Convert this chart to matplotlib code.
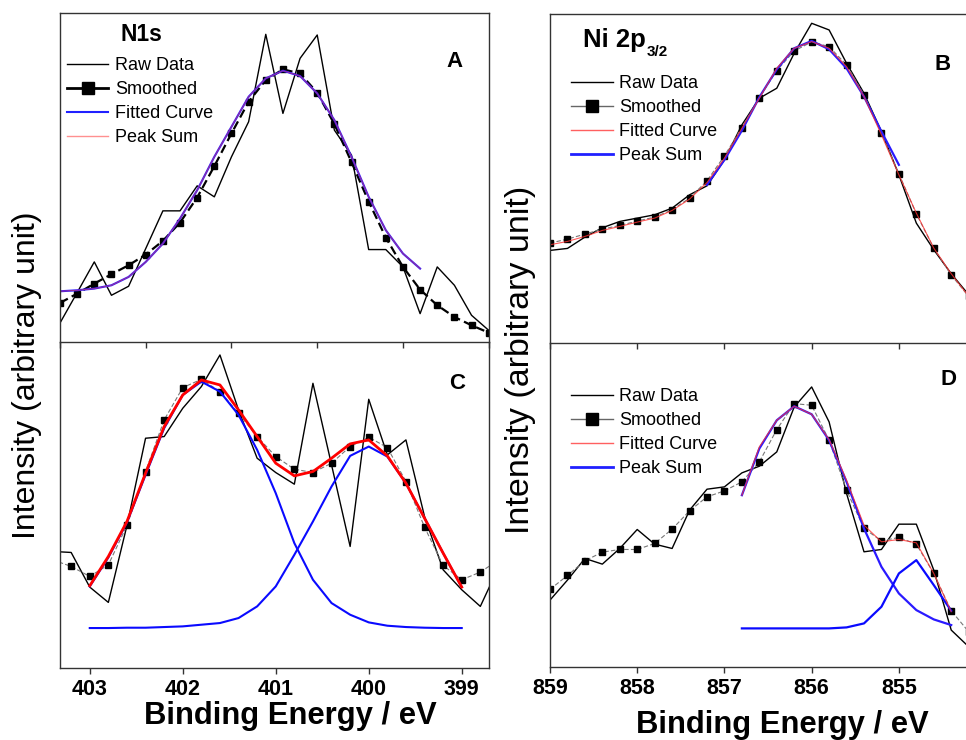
import numpy as np
import matplotlib
matplotlib.use("Agg")
import matplotlib.pyplot as plt
from matplotlib.lines import Line2D

plt.rcParams['font.family'] = ['Liberation Sans', 'DejaVu Sans']

# ---- N1s, sample 1 (panel A) ----
eA = np.round(np.arange(404.0, 398.9, -0.2), 1)
rawA = [57, 148, 240, 140, 167, 280, 393, 393, 468, 435, 555, 660, 922,
        685, 850, 920, 635, 560, 277, 277, 225, 85, 225, 170, 80, 35]
smoothA = [117, 145, 175, 203, 230, 262, 303, 358, 433, 527, 625, 720, 785,
           817, 805, 747, 653, 539, 421, 313, 225, 157, 110, 75, 50, 28]
eA_fit = np.round(np.arange(404.0, 399.7, -0.2), 1)
fitA = [152, 155, 160, 170, 195, 240, 295, 370, 455, 555, 645, 735, 790,
        813, 797, 745, 665, 555, 435, 335, 265, 220]

# ---- N1s, sample 2 (panel C) ----
eC = np.round(np.arange(403.4, 398.5, -0.2), 1)
rawC = [350, 347, 243, 197, 428, 690, 695, 780, 845, 940, 775, 630, 587,
        552, 855, 610, 365, 807, 640, 685, 455, 295, 235, 185, 305]
smoothC = [325, 305, 275, 310, 428, 590, 745, 842, 867, 830, 765, 695, 635,
           597, 587, 615, 665, 693, 662, 560, 423, 308, 265, 288, 325]
eC_fit = np.round(np.arange(403.0, 398.9, -0.2), 1)
sumC = [247, 335, 440, 585, 725, 820, 865, 850, 775, 695, 615, 577, 590,
        630, 673, 685, 637, 555, 450, 345, 243]
peak1C = [245, 332, 437, 580, 720, 820, 860, 830, 760, 655, 525, 375, 265,
          195, 160, 137, 127, 123, 121, 120, 120]
peak2C = [120, 120, 121, 121, 123, 125, 130, 135, 150, 185, 245, 340, 440,
          545, 637, 665, 635, 555, 450, 345, 243]

# ---- Ni 2p3/2, sample 1 (panel B) ----
eNi = np.round(np.arange(859.0, 854.1, -0.2), 1)
rawB = [278, 284, 318, 346, 365, 375, 385, 405, 445, 472, 550, 655, 735,
        765, 870, 960, 940, 840, 750, 635, 505, 360, 280, 208, 145]
smoothB = [300, 312, 327, 342, 353, 366, 378, 400, 435, 487, 562, 647, 737,
           818, 877, 904, 890, 835, 745, 630, 508, 388, 285, 204, 140]
fitB = [295, 305, 320, 338, 350, 363, 375, 398, 432, 482, 555, 645, 735,
        825, 885, 905, 885, 830, 740, 625, 505, 390, 285, 208, 140]
eB_peak = np.round(np.arange(857.2, 854.9, -0.2), 1)
peakB = [475, 550, 638, 738, 822, 885, 907, 882, 825, 740, 635, 535]

# ---- Ni 2p3/2, sample 2 (panel D) ----
rawD = [200, 260, 325, 308, 355, 412, 368, 355, 470, 533, 540, 582, 602,
        645, 780, 840, 735, 520, 345, 352, 428, 428, 290, 110, 60]
smoothD = [232, 274, 318, 344, 352, 352, 370, 413, 468, 510, 528, 555, 615,
           712, 790, 785, 680, 530, 415, 378, 388, 368, 280, 168, 105]
eD_fit = np.round(np.arange(856.8, 854.3, -0.2), 1)
fitD = [515, 660, 740, 782, 758, 682, 560, 425, 375, 382, 372, 280, 165]
peak1D = [515, 655, 740, 782, 758, 680, 555, 415, 300, 220, 170, 142, 125]
peak2D = [115, 115, 115, 115, 115, 115, 118, 130, 180, 280, 320, 245, 168]

W, H = 966, 740
fig = plt.figure(figsize=(W / 100, H / 100), dpi=100)


def px_axes(x0, y0, x1, y1):
    return fig.add_axes([x0 / W, 1 - y1 / H, (x1 - x0) / W, (y1 - y0) / H])


axA = px_axes(60, 13.3, 488.7, 342)
axC = px_axes(60, 342, 488.7, 668)
axB = px_axes(550, 14.3, 980, 343)
axD = px_axes(550, 343, 980, 666.7)

spine_col = '#333333'
for ax in (axA, axC, axB, axD):
    ax.patch.set_visible(False)
    for s in ax.spines.values():
        s.set_linewidth(1.0)
        s.set_color(spine_col)
    ax.set_yticks([])
    ax.tick_params(axis='x', direction='out', length=4, width=1,
                   color=spine_col, labelsize=15.5, pad=4)

leg_kw = dict(loc='upper left', frameon=False, fontsize=13, borderpad=0,
              borderaxespad=0, handlelength=2.3, handletextpad=0.35,
              labelspacing=0.39)

# panel A
axA.plot(eA, rawA, color='black', lw=1.0)
axA.plot(eA, smoothA, color='black', lw=1.6, ls=(0, (4, 2)),
         marker='s', ms=4.5, mfc='black', mec='black')
axA.plot(eA_fit, fitA, color='#2a1aff', lw=1.5)
axA.plot(eA_fit, fitA, color='#ff4040', lw=0.7, alpha=0.55)
axA.set_xlim(404.0, 399.0)
axA.set_ylim(0, 985)
axA.set_xticks([404, 403, 402, 401, 400, 399])
axA.tick_params(axis='x', labelbottom=False)
axA.text(0.14, 0.934, 'N1s', transform=axA.transAxes, fontsize=16.5,
         fontweight='bold', ha='left', va='center')
axA.text(0.921, 0.852, 'A', transform=axA.transAxes, fontsize=16,
         fontweight='bold', ha='center', va='center')
handlesA = [
    Line2D([], [], color='black', lw=1.0),
    Line2D([], [], color='black', lw=2.0, marker='s', ms=8),
    Line2D([], [], color='#2020ff', lw=1.5),
    Line2D([], [], color='#ff9090', lw=1.0),
]
axA.legend(handlesA, ['Raw Data', 'Smoothed', 'Fitted Curve', 'Peak Sum'],
           bbox_to_anchor=(0.016, 0.866), **leg_kw)

# panel C
axC.plot(eC, rawC, color='black', lw=1.0)
axC.plot(eC, smoothC, color='#777777', lw=0.8, ls=(0, (4, 2)),
         marker='s', ms=4.5, mfc='black', mec='black')
axC.plot(eC_fit, peak1C, color='#0a0aff', lw=1.5)
axC.plot(eC_fit, peak2C, color='#0a0aff', lw=1.5)
axC.plot(eC_fit, sumC, color='#ff0000', lw=2.0)
axC.set_xlim(403.32, 398.71)
axC.set_ylim(0, 979)
axC.set_xticks([403, 402, 401, 400, 399])
axC.set_xticklabels(['403', '402', '401', '400', '399'], fontweight='bold')
axC.spines['top'].set_visible(False)
axC.text(0.926, 0.874, 'C', transform=axC.transAxes, fontsize=16,
         fontweight='bold', ha='center', va='center')

# panel B
axB.plot(eNi, rawB, color='black', lw=1.0)
axB.plot(eNi, smoothB, color='#777777', lw=0.8, ls=(0, (4, 2)),
         marker='s', ms=4.5, mfc='black', mec='black')
axB.plot(eB_peak, peakB, color='#2a1aff', lw=1.6)
axB.plot(eNi, fitB, color='#ff3030', lw=0.8, alpha=0.8)
axB.set_xlim(859.0, 854.07)
axB.set_ylim(0, 987)
axB.set_xticks([859, 858, 857, 856, 855])
axB.tick_params(axis='x', labelbottom=False)
axB.text(0.0767, 0.922, 'Ni 2p', transform=axB.transAxes, fontsize=18.5,
         fontweight='bold', ha='left', va='center')
axB.text(0.226, 0.885, '3/2', transform=axB.transAxes, fontsize=11,
         fontweight='bold', ha='left', va='center')
axB.text(0.914, 0.846, 'B', transform=axB.transAxes, fontsize=16,
         fontweight='bold', ha='center', va='center')
handlesNi = [
    Line2D([], [], color='black', lw=1.0),
    Line2D([], [], color='#666666', lw=1.0, marker='s', ms=8,
           mfc='black', mec='black'),
    Line2D([], [], color='#ff6060', lw=1.0),
    Line2D([], [], color='#2020ff', lw=2.0),
]
labelsNi = ['Raw Data', 'Smoothed', 'Fitted Curve', 'Peak Sum']
axB.legend(handlesNi, labelsNi, bbox_to_anchor=(0.049, 0.815), **leg_kw)

# panel D
axD.plot(eNi, rawD, color='black', lw=1.0)
axD.plot(eNi, smoothD, color='#777777', lw=0.8, ls=(0, (4, 2)),
         marker='s', ms=4.5, mfc='black', mec='black')
axD.plot(eD_fit, peak1D, color='#2a1aff', lw=1.6)
axD.plot(eD_fit, peak2D, color='#0a0aff', lw=1.6)
axD.plot(eD_fit, fitD, color='#ff3030', lw=0.8, alpha=0.8)
axD.set_xlim(859.0, 854.07)
axD.set_ylim(0, 972)
axD.set_xticks([859, 858, 857, 856, 855])
axD.set_xticklabels(['859', '858', '857', '856', '855'], fontweight='bold')
axD.spines['top'].set_visible(False)
axD.text(0.926, 0.886, 'D', transform=axD.transAxes, fontsize=16,
         fontweight='bold', ha='center', va='center')
axD.legend(handlesNi, labelsNi, bbox_to_anchor=(0.049, 0.861), **leg_kw)

# shared axis titles
fig.text(27 / W, 1 - 375 / H, 'Intensity (arbitrary unit)', rotation=90,
         fontsize=23, ha='center', va='center')
fig.text(520 / W, 1 - 360 / H, 'Intensity (arbitrary unit)', rotation=90,
         fontsize=24.5, ha='center', va='center')
fig.text(290 / W, 1 - 716 / H, 'Binding Energy / eV', fontsize=22.3,
         fontweight='bold', ha='center', va='center')
fig.text(782 / W, 1 - 725 / H, 'Binding Energy / eV', fontsize=22.3,
         fontweight='bold', ha='center', va='center')

fig.savefig('out.png', dpi=100)
